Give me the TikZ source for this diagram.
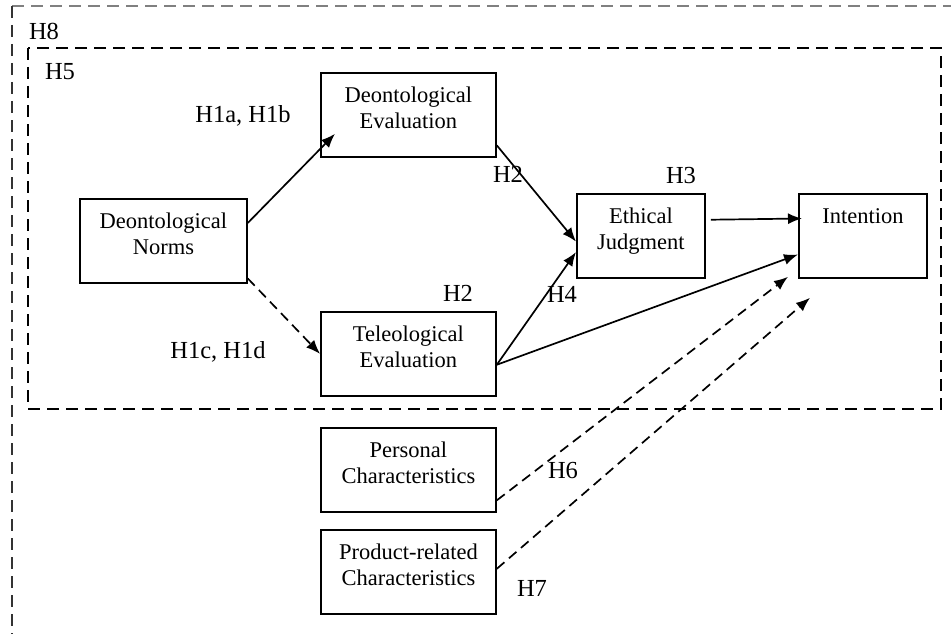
\documentclass[tikz,border=0pt]{standalone}
\usepackage{fontspec}
\setmainfont{Liberation Serif}
\usetikzlibrary{arrows.meta}
\tikzset{
  box/.style={draw, line width=1.8pt, align=center, inner sep=0pt,
    text height=55.5pt, text depth=28.5pt, anchor=north west,
    minimum width=175pt, font=\fontsize{22.5}{25.5}\selectfont},
  hyp/.style={inner sep=0pt, font=\fontsize{24.5}{28}\selectfont},
  link/.style={line width=1.7pt, -{Latex[length=14pt,width=11pt]}},
  dashlink/.style={link, dash pattern=on 10pt off 6pt},
  frame/.style={line width=1.6pt, dash pattern=on 12pt off 7pt}
}
\begin{document}
\begin{tikzpicture}[x=1pt,y=-1pt]
      \useasboundingbox (0,0) rectangle (951,634);
      % outer and inner dashed frames
      \draw[frame, gray] (12,6) -- (960,6);
      \draw[frame, black!80] (12,6) -- (12,640);
      \draw[frame] (28,48) rectangle (941,409);
      \node[hyp] (h8) at (44,31) {H8};
      \node[hyp] (h5) at (60,72) {H5};
      % boxes
      \node[box, minimum width=167pt] (dn) at (79,198) {Deontological\\Norms};
      \node[box] (de) at (320,72) {Deontological\\Evaluation};
      \node[box] (te) at (320,311) {Teleological\\Evaluation};
      \node[box, minimum width=128pt] (ej) at (576,193) {Ethical\\Judgment};
      \node[box, minimum width=128pt, text height=30pt, text depth=54pt] (int) at (798,193) {Intention};
      \node[box] (pc) at (320,427) {Personal\\Characteristics};
      \node[box] (prc) at (320,529) {Product-related\\Characteristics};
      % hypothesis labels
      \node[hyp] (h1ab) at (243,116) {H1a, H1b};
      \node[hyp] (h1cd) at (218,352) {H1c, H1d};
      \node[hyp] (h2a) at (508,174) {H2};
      \node[hyp] (h2b) at (458,293) {H2};
      \node[hyp] (h3) at (681,176) {H3};
      \node[hyp] (h4) at (562,294) {H4};
      \node[hyp] (h6) at (563,471) {H6};
      \node[hyp] (h7) at (532,588) {H7};
      % paths
      \draw[link] (dn.12) to ([shift={(15,-24)}]de.south west);
      \draw[dashlink] (dn.-24) to (te.west);
      \draw[link] (de.-19) to (ej.185);
      \draw[link] (te.-7) to (ej.194);
      \draw[link] ([xshift=5pt]ej.14.5) to ([xshift=4pt]int.165.5);
      \draw[link] (te.-7) to (int.196);
      \draw[dashlink] (pc.-19.5) to ([shift={(-10,-2)}]int.south west);
      \draw[dashlink] (prc.2) to ([shift={(12,19)}]int.south west);
    \end{tikzpicture}
\end{document}
